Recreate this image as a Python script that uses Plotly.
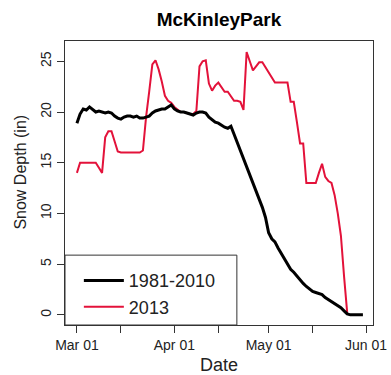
import plotly.graph_objects as go
import pandas as pd

# ---- data (daily, starting Mar 01) ----
normal_start = "2013-03-01"
normal_1981_2010 = [
    18.9, 19.8, 20.3, 20.2, 20.5, 20.2, 20.0, 20.1, 20.0, 19.9,
    20.0, 19.9, 19.6, 19.4, 19.3, 19.5, 19.6, 19.6, 19.5, 19.6,
    19.4, 19.4, 19.5, 19.6, 19.9, 20.1, 20.2, 20.3, 20.3, 20.5,
    20.7, 20.3, 20.1, 20.0, 20.0, 19.9, 19.8, 19.7, 19.9, 20.0,
    20.0, 19.9, 19.5, 19.2, 19.0, 18.9, 18.7, 18.5, 18.4, 18.6,
    17.8, 17.0, 16.2, 15.5, 14.6, 13.7, 13.0, 12.2, 11.5, 10.6,
    9.6, 8.1, 7.5, 7.2, 6.6, 6.1, 5.6, 5.0, 4.5, 4.2,
    3.8, 3.4, 3.1, 2.8, 2.5, 2.3, 2.2, 2.1, 2.0, 1.7,
    1.5, 1.3, 1.1, 0.9, 0.7, 0.4, 0.1, 0.0, 0.0, 0.0,
    0.0, 0.0,
]
year_2013 = [
    14.0, 15.0, 15.0, 15.0, 15.0, 15.0, 15.0, 14.5, 14.0, 17.5,
    18.1, 18.1, 17.0, 16.1, 16.0, 16.0, 16.0, 16.0, 16.0, 16.0,
    16.0, 16.2, 19.5, 22.0, 24.7, 25.1, 24.2, 23.0, 21.6, 21.1,
    20.9, 20.5, 20.2, 20.0, 20.0, 19.9, 19.8, 19.8, 20.1, 24.5,
    25.0, 25.1, 22.8, 22.1, 22.6, 22.9, 22.5, 22.0, 22.0, 21.6,
    21.1, 21.1, 21.0, 20.2, 25.9, 25.0, 24.1, 24.5, 24.9, 24.9,
    24.4, 23.9, 23.3, 22.9, 22.9, 22.9, 22.9, 22.9, 21.0, 21.0,
    19.0, 16.9, 16.9, 13.0, 13.0, 13.0, 13.0, 14.0, 14.9, 13.6,
    13.2, 13.0, 11.8, 10.0, 7.8, 3.8, 0.2,
]
series_names = ["1981-2010", "2013"]
tick_dates = ["2013-03-01", "2013-03-15", "2013-04-01", "2013-04-15",
              "2013-05-01", "2013-05-15", "2013-06-01"]
tick_labels = ["Mar 01", "", "Apr 01", "", "May 01", "", "Jun 01"]
y_ticks = [0, 5, 10, 15, 20, 25]

dates_normal = pd.date_range(normal_start, periods=len(normal_1981_2010), freq="D")
dates_2013 = pd.date_range(normal_start, periods=len(year_2013), freq="D")

FONT = "Arial, Liberation Sans, sans-serif"

fig = go.Figure()
fig.add_trace(go.Scatter(
    x=dates_2013, y=year_2013, mode="lines", name=series_names[1],
    line=dict(color="#e3123a", width=2), legendrank=2,
))
fig.add_trace(go.Scatter(
    x=dates_normal, y=normal_1981_2010, mode="lines", name=series_names[0],
    line=dict(color="black", width=3), legendrank=1,
))

# legend frame (R-style box)
fig.add_shape(type="rect", xref="paper", yref="paper",
              x0=0, x1=0.558, y0=0, y1=0.246,
              line=dict(color="#333", width=1), fillcolor="white", layer="below")

# axis titles
fig.add_annotation(text="Snow Depth (in)", xref="paper", yref="paper",
                   x=-0.143, y=0.54, textangle=-90, showarrow=False,
                   xanchor="center", yanchor="middle",
                   font=dict(size=16, family=FONT, color="#222"))
fig.add_annotation(text="Date", xref="paper", yref="paper",
                   x=0.5, y=-0.141, showarrow=False,
                   xanchor="center", yanchor="middle",
                   font=dict(size=18, family=FONT, color="#222"))

fig.update_layout(
    width=391, height=375,
    margin=dict(l=65, r=18, t=41, b=50),
    paper_bgcolor="white", plot_bgcolor="white",
    font=dict(family=FONT, color="black"),
    title=dict(text="<b>McKinleyPark</b>", xref="paper", x=0.5, xanchor="center",
               y=1 - 19 / 375, yanchor="middle",
               font=dict(size=19, family=FONT, color="black")),
    showlegend=True,
    legend=dict(x=0.045, y=0.11, xanchor="left", yanchor="middle",
                bgcolor="rgba(0,0,0,0)", borderwidth=0,
                font=dict(size=18, family=FONT, color="#222"),
                itemwidth=40, tracegroupgap=0),
    xaxis=dict(
        type="date",
        range=["2013-02-25 05:00", "2013-06-03 05:00"],
        tickmode="array", tickvals=tick_dates, ticktext=tick_labels,
        ticks="outside", ticklen=7, tickcolor="#333",
        showgrid=False, zeroline=False, automargin=False,
        showline=True, mirror=True, linecolor="#333", linewidth=1,
        tickfont=dict(size=14, color="#222"),
    ),
    yaxis=dict(
        range=[-1.0, 27.0],
        tickmode="array", tickvals=y_ticks,
        tickangle=-90,
        ticks="outside", ticklen=7, tickcolor="#333",
        showgrid=False, zeroline=False, automargin=False,
        showline=True, mirror=True, linecolor="#333", linewidth=1,
        tickfont=dict(size=14, color="#222"),
    ),
)

fig.write_html("out.html", config={"displayModeBar": False},
               post_script="document.body.style.margin='0';")
